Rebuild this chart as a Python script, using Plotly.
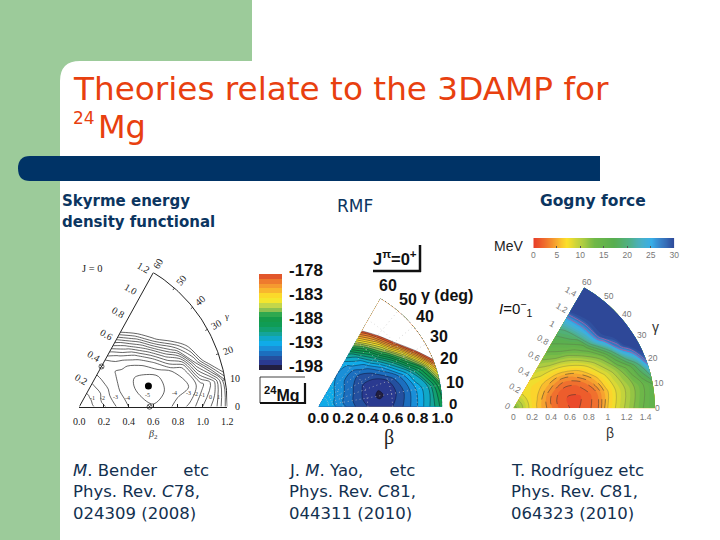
import numpy as np
import plotly.graph_objects as go

GAMMA = [0, 10, 20, 30, 40, 50, 60]

# ---- Skyrme panel: relative energy
BETA_L = [0, .1, .2, .3, .4, .5, .6, .7, .8, .9, 1.0, 1.1, 1.2]
Z_L = [
    [-.2, -.8, -1.85, -3.0, -4.0, -4.7, -4.9, -4.4, -3.6, -2.7, -1.0, .5, 3.5],
    [-.2, -.9, -2.2, -3.3, -4.3, -5.0, -5.4, -5.0, -4.4, -4.0, -2.4, -.6, 4.0],
    [-.2, -.9, -2.2, -3.5, -4.5, -5.2, -5.5, -4.9, -4.0, -2.8, 3.0, 8.0, 11.0],
    [-.2, -.9, -2.0, -3.4, -4.4, -4.9, -4.4, -2.8, .5, 3.7, 7.0, 10.0, 14.0],
    [-.2, -.9, -2.0, -3.4, -4.1, -3.9, -2.5, 1.0, 5.5, 9.0, 12.0, 15.0, 18.0],
    [-.2, -.8, -2.0, -3.3, -3.8, -2.4, .5, 4.5, 8.5, 12.0, 15.0, 18.0, 21.0],
    [-.2, -.8, -1.9, -3.2, -3.5, -.7, 3.0, 7.5, 12.0, 15.0, 18.0, 21.0, 24.0],
]
X_TICKS_L = [0, .2, .4, .6, .8, 1.0, 1.2]
X_LABELS_L = ["0.0", "0.2", "0.4", "0.6", "0.8", "1.0", "1.2"]
CONTOUR_TAGS_L = [(.13, 32, "-1"), (.2, 20, "-2"), (.3, 14, "-3"), (.4, 10, "-4"), (.56, 9, "-5"),
                  (.78, 8, "-4"), (.89, 7, "-3"), (.95, 6, "-2"), (1.0, 5, "-1"), (1.07, 4, "0"), (1.13, 4, "1")]

# ---- RMF panel
BETA_M = [0, .1, .2, .3, .4, .5, .6, .7, .8, .9, 1.0]
Z_M = [
    [-192, -192.5, -193.7, -195, -196, -196.5, -196, -194.8, -193, -191, -188.5],
    [-192, -192.6, -194, -195.2, -196.5, -197.2, -196.6, -195, -193, -191, -187],
    [-192, -192.6, -193.8, -195, -196.3, -196.8, -196, -194, -191, -187, -180],
    [-192, -192.5, -193.5, -194.7, -195.8, -195.5, -193.5, -190, -185, -178, -171],
    [-192, -192.5, -193.2, -194.3, -194.8, -193.5, -190, -185, -178, -171, -164],
    [-192, -192.3, -193, -193.7, -193.5, -191.5, -187, -181, -174, -167, -160],
    [-192, -192.3, -192.8, -193, -192.5, -189.5, -184, -178, -172, -166, -160],
]
BAND_VALUES_M = [-178.5 - i for i in range(20)]
BAND_COLORS_M = ["#E2572B", "#EE7B2E", "#F59A30", "#F8B62E", "#FBD92A", "#F4E62E", "#C4D64A", "#8CC152",
                 "#2FA84F", "#149A4A", "#109C55", "#12A070", "#14A59A", "#10A8C8", "#10ABE8", "#1A8FD8",
                 "#1C6FBF", "#24509F", "#2A3A90", "#221F40"]
BAR_TICKS_M = [-178, -183, -188, -193, -198]
X_TICKS_M = [0, .2, .4, .6, .8, 1.0]
X_LABELS_M = ["0.0", "0.2", "0.4", "0.6", "0.8", "1.0"]

# ---- Gogny panel
BETA_R = [0, .1, .2, .3, .4, .5, .6, .7, .8, .9, 1.0, 1.1, 1.2, 1.3, 1.4, 1.5]
Z_R = [
    [13, 10, 7, 5, 3.2, 1.7, 1, 1, 1.7, 3, 6, 8.5, 10.5, 12.5, 14.5, 16],
    [13, 10, 7, 5, 3, 1.5, .8, .8, 1.5, 2.9, 5.5, 8, 10, 12, 14, 16],
    [13, 10, 7.1, 5.5, 3.4, 2.1, 1.5, 1.8, 3, 4.8, 7.2, 9.5, 12, 15, 20, 28],
    [13, 10, 7.2, 6, 4.8, 3.8, 3.4, 4.2, 5.8, 8, 10.5, 13, 19, 27, 32, 34],
    [13, 10, 7.3, 6.5, 6, 6, 6.5, 8, 10, 12.5, 15, 22, 29, 32, 34, 36],
    [13, 10, 7.4, 7, 7.5, 8.5, 10, 12, 14, 16, 19, 24, 29, 32, 35, 37],
    [13, 10, 7.5, 7.5, 8.5, 10, 12, 14, 16, 18, 20.5, 24.5, 30, 32, 34, 36],
]
SCALE_VALUES_R = [0, 2.5, 5, 7, 10, 13, 17, 20, 23, 25, 27, 30]
SCALE_COLORS_R = ["#E8402A", "#F0702E", "#F8B030", "#FCE02A", "#B8D040", "#70B848", "#58AE50", "#50B080",
                  "#48B0C8", "#38AEE8", "#3880C8", "#2E4898"]
X_TICKS_R = [0, .2, .4, .6, .8, 1, 1.2, 1.4]
X_LABELS_R = ["0", "0.2", "0.4", "0.6", "0.8", "1", "1.2", "1.4"]
BAR_TICKS_R = [0, 5, 10, 15, 20, 25, 30]

W, H = 720, 540
NAVY = "#0B3560"
TITLE = "#E8400F"
GREEN = "#9CCB9A"

# panel frames in page pixels: left, right, top, bottom
FRAME = {1: (79.3, 227.3, 272.6, 406.7), 2: (318.3, 442.3, 298.4, 406.7), 3: (513.3, 655, 287.5, 408.3)}
RANGE = {1: (1.2, 1.0392), 2: (1.0, .866), 3: (1.5, 1.299)}


def polar(b, g):
    r = np.radians(g)
    return b * np.cos(r), b * np.sin(r)


def mesh(betas):
    bb, gg = np.meshgrid(betas, GAMMA)
    return polar(bb, gg)


def domx(a, b):
    return [a / W, b / W]


def domy(top, bottom):
    return [1 - bottom / H, 1 - top / H]


def px(x):
    return x / W


def py(y):
    return 1 - y / H


fig = go.Figure()
ann = []
shapes = []


def text(x, y, s, size, color="#000", family="Liberation Sans", anchor="center", angle=0):
    ann.append(dict(x=px(x), y=py(y), xref="paper", yref="paper", text=s, showarrow=False, xanchor=anchor,
                    yanchor="middle", textangle=angle, font=dict(size=size, color=color, family=family)))


def dtext(ax, b, g, s, size, color, family, angle=0, dx=0, dy=0):
    # annotation placed by polar position; labels sit outside the axis range so they go on the page frame
    x, y = polar(b, g)
    l, r, t, bt = FRAME[ax]
    rx, ry = RANGE[ax]
    text(l + (r - l) * float(x) / rx + dx, bt - (bt - t) * float(y) / ry - dy, s, size, color, family, angle=angle)


def add_carpet(cid, betas, ax):
    x, y = mesh(betas)
    hidden = dict(showgrid=False, showline=False, showticklabels="none", startline=False, endline=False,
                  minorgridcount=0, smoothing=1)
    fig.add_trace(go.Carpet(carpet=cid, a=betas, b=GAMMA, x=x.tolist(), y=y.tolist(), aaxis=hidden, baxis=hidden,
                            xaxis=f"x{ax}", yaxis=f"y{ax}"))


def line(ax, xs, ys, color="#000", width=1, dash="solid"):
    fig.add_trace(go.Scatter(x=xs, y=ys, mode="lines", xaxis=f"x{ax}", yaxis=f"y{ax}", hoverinfo="skip",
                             showlegend=False, cliponaxis=False, line=dict(color=color, width=width, dash=dash)))


# ---------- left panel
add_carpet("L", BETA_L, 1)
fig.add_trace(go.Contourcarpet(carpet="L", a=BETA_L, b=GAMMA, z=Z_L, autocontour=False, showscale=False,
                               contours=dict(start=-5, end=6, size=1, coloring="none"),
                               line=dict(color="#222", width=.7, smoothing=1), xaxis="x1", yaxis="y1"))
g_fine = np.linspace(0, 60, 61)
ax_, ay_ = polar(1.2, g_fine)
line(1, ax_.tolist(), ay_.tolist(), "#222", 1)
ex, ey = polar(np.array([0, 1.2]), 60)
line(1, ex.tolist(), ey.tolist(), "#222", 1)
for g in GAMMA[1:-1]:
    tx, ty = polar(np.array([1.18, 1.2]), g)
    line(1, tx.tolist(), ty.tolist(), "#222", .8)
fig.add_trace(go.Scatter(x=[float(polar(.583, 16)[0])], y=[float(polar(.583, 16)[1])], mode="markers", xaxis="x1",
                         yaxis="y1", showlegend=False, hoverinfo="skip",
                         marker=dict(color="#000", size=7)))
sx, sy = polar(np.array([.36, .57]), np.array([60, 0]))
fig.add_trace(go.Scatter(x=sx.tolist(), y=sy.tolist(), mode="markers", xaxis="x1", yaxis="y1", showlegend=False,
                         hoverinfo="skip", cliponaxis=False,
                         marker=dict(symbol="circle-x-open", color="#222", size=5, line=dict(width=.7))))
for b, s in zip(X_TICKS_L[1:], X_LABELS_L[1:]):
    dtext(1, b, 60, s, 10, "#222", "Liberation Serif", angle=30, dx=-10, dy=5)
for g in GAMMA[1:]:
    dtext(1, 1.28, g, str(g), 10, "#222", "Liberation Serif", angle=-g if g > 10 else 0)
dtext(1, 1.28, 0, "0", 10, "#222", "Liberation Serif")
for b, g, s in CONTOUR_TAGS_L:
    dtext(1, b, g, s, 6, "#333", "Liberation Serif")
text(92.7, 268.3, "J = 0", 10.5, "#222", "Liberation Serif")
text(226.5, 316, "γ", 9, "#222", "Liberation Serif")
text(152.7, 434, "<i>β</i><sub>2</sub>", 10, "#333", "Liberation Serif")

# ---------- middle panel
add_carpet("M", BETA_M, 2)
cs_m = [[0, BAND_COLORS_M[-1]]]
for v, c in sorted(zip(BAND_VALUES_M, BAND_COLORS_M)):
    cs_m.append([(v + 198.5) / 21, c])
cs_m.append([1, "#FFFFFF"])
fig.add_trace(go.Contourcarpet(carpet="M", a=BETA_M, b=GAMMA, z=Z_M, autocontour=False, showscale=False,
                               colorscale=cs_m, contours=dict(start=-198, end=-178, size=1, coloring="fill"),
                               line=dict(color="rgba(10,10,30,.7)", width=.6, smoothing=1), xaxis="x2", yaxis="y2"))
for g in GAMMA[1:]:
    rx, ry = polar(np.array([.08, 1.0]), g)
    line(2, rx.tolist(), ry.tolist(), "#c4c4c4", .7, "1px,3px")
for b in [.2, .4, .6, .8, 1.0]:
    ax_, ay_ = polar(b, g_fine)
    line(2, ax_.tolist(), ay_.tolist(), "#d0d0d0" if b < 1 else "#444", .7, "1px,3px")
for g in GAMMA[1:]:
    dtext(2, 1.12, g, f"<b>{g}</b>", 16, "#111", "Liberation Sans")
dtext(2, 1.09, 0, "<b>0</b>", 15, "#111", "Liberation Sans", dy=3)
text(447, 295, "<b>γ (deg)</b>", 16, "#111")
text(395, 258, "<b>J<sup>π</sup>=0<sup>+</sup></b>", 16.5, "#111")
text(389, 437, "β", 20, "#222", "Liberation Serif")
text(282, 394, "<b><sup>24</sup>Mg</b>", 16, "#111")
fig.add_trace(go.Heatmap(x=[0], y=BAND_VALUES_M, z=[[v] for v in BAND_VALUES_M], xaxis="x4", yaxis="y4", showscale=False,
                         zmin=-197.5, zmax=-178.5, hoverinfo="skip",
                         colorscale=[[(v + 197.5) / 19, c] for v, c in sorted(zip(BAND_VALUES_M, BAND_COLORS_M))]))

# ---------- right panel
add_carpet("R", BETA_R, 3)
cs_r = [[0, SCALE_COLORS_R[0]]] + [[(v + .5) / 31, c] for v, c in zip(SCALE_VALUES_R, SCALE_COLORS_R)] + [[1, SCALE_COLORS_R[-1]]]
fig.add_trace(go.Contourcarpet(carpet="R", a=BETA_R, b=GAMMA, z=Z_R, autocontour=False, showscale=False, colorscale=cs_r,
                               contours=dict(start=0, end=30, size=1, coloring="fill"),
                               line=dict(width=0, smoothing=1), xaxis="x3", yaxis="y3"))
for start, end, size, color, dash, width in [(1, 5, 1, "#333", "dash", .5), (6, 20, 2, "rgba(90,90,70,.5)", "solid", .6),
                                             (26, 28, 2, "#A060A8", "solid", .9)]:
    fig.add_trace(go.Contourcarpet(carpet="R", a=BETA_R, b=GAMMA, z=Z_R, autocontour=False, showscale=False,
                                   contours=dict(start=start, end=end, size=size, coloring="none"),
                                   line=dict(color=color, width=width, dash=dash, smoothing=1), xaxis="x3", yaxis="y3"))
for b, s in zip(X_TICKS_R[1:], X_LABELS_R[1:]):
    dtext(3, b, 60, s, 8.5, "#777", "Liberation Sans", angle=30, dx=-8, dy=4)
dtext(3, 0, 0, "0", 8.5, "#777", "Liberation Sans", angle=30, dx=-6, dy=2)
for g in GAMMA[1:]:
    dtext(3, 1.57, g, str(g), 8.5, "#777", "Liberation Sans")
dtext(3, 1.53, 0, "0", 8.5, "#777", "Liberation Sans")
text(655, 327, "γ", 14, "#333", "Liberation Sans")
text(610, 433, "β", 14, "#333", "Liberation Sans")
text(497, 308, "<i>I</i>=0<sup>−</sup><sub>1</sub>", 15, "#111", anchor="left")
text(508, 246, "MeV", 14, "#222")
bar_z = [[v for v in range(0, 31)]]
fig.add_trace(go.Heatmap(x=list(range(0, 31)), y=[0], z=bar_z, xaxis="x5", yaxis="y5", showscale=False, zmin=0, zmax=30,
                         hoverinfo="skip", zsmooth="best",
                         colorscale=[[v / 30, c] for v, c in zip(SCALE_VALUES_R, SCALE_COLORS_R)]))

# ---------- slide text
text(71, 89, "Theories relate to the 3DAMP for", 32.7, TITLE, "DejaVu Sans", "left")
text(71, 118, "24", 17, TITLE, "DejaVu Sans", "left")
text(96, 127, "Mg", 32, TITLE, "DejaVu Sans", "left")
text(60, 201, "<b>Skyrme energy</b>", 15, NAVY, "DejaVu Sans", "left")
text(60, 222, "<b>density functional</b>", 15, NAVY, "DejaVu Sans", "left")
text(335, 206, "RMF", 17, NAVY, "DejaVu Sans", "left")
text(538, 201, "<b>Gogny force</b>", 15.5, NAVY, "DejaVu Sans", "left")
CAPTIONS = [
    (71, ["<i>M</i>. Bender     etc", "Phys. Rev. <i>C</i>78,", "024309 (2008)"]),
    (287, ["J. <i>M</i>. Yao,     etc", "Phys. Rev. <i>C</i>81,", "044311 (2010)"]),
    (509, ["T. Rodríguez etc", "Phys. Rev. <i>C</i>81,", "064323 (2010)"]),
]
for x0, lines in CAPTIONS:
    for y0, s in zip([470, 491, 513], lines):
        text(x0, y0, s, 16.5, "#12304F", "DejaVu Sans", "left")


def rect(x0, y0, x1, y1, color):
    shapes.append(dict(type="rect", xref="paper", yref="paper", x0=px(x0), x1=px(x1), y0=py(y0), y1=py(y1),
                       fillcolor=color, line_width=0, layer="below"))


def seg(x0, y0, x1, y1, width, color="#111"):
    shapes.append(dict(type="line", xref="paper", yref="paper", x0=px(x0), x1=px(x1), y0=py(y0), y1=py(y1),
                       line=dict(color=color, width=width)))


def rounded(path_pts, color):
    d = ""
    for cmd, pts in path_pts:
        d += cmd + " ".join(f"{px(a):.5f},{py(b):.5f}" for a, b in pts) + " "
    shapes.append(dict(type="path", xref="paper", yref="paper", path=d + "Z", fillcolor=color, line_width=0, layer="below"))


rect(0, 0, 252, 61, GREEN)
rect(0, 61, 60, 540, GREEN)
rounded([("M", [(60, 61)]), ("L", [(80, 61)]), ("Q", [(60, 61), (60, 81)])], GREEN)
rounded([("M", [(30, 156)]), ("L", [(600, 156)]), ("L", [(600, 181)]), ("L", [(30, 181)]),
         ("Q", [(18, 181), (18, 168.5)]), ("Q", [(18, 156), (30, 156)])], "#003366")
seg(373, 271, 421, 271, 2.5)
seg(420, 245, 420, 272, 2.5)
seg(260, 377, 305, 377, .8)
seg(260, 377, 260, 403, .8)
seg(260, 403, 306, 403, 2.2)
seg(305, 383, 305, 404, 2.2)

hide = dict(showgrid=False, zeroline=False, showticklabels=False, ticks="", showline=False, fixedrange=True)
serif = dict(size=10, color="#222", family="Liberation Serif")
fig.update_layout(
    width=W, height=H, margin=dict(l=0, r=0, t=0, b=0, autoexpand=False), paper_bgcolor="#FFFFFF", plot_bgcolor="rgba(0,0,0,0)",
    showlegend=False, annotations=ann, shapes=shapes,
    xaxis=dict(domain=domx(79.3, 227.3), range=[0, 1.2], anchor="y", showgrid=False, zeroline=False, showline=True,
               linecolor="#222", linewidth=1, ticks="inside", ticklen=3, tickvals=X_TICKS_L, ticktext=X_LABELS_L,
               tickfont=serif, ticklabelstandoff=5, tickcolor="#222"),
    yaxis=dict(domain=domy(272.6, 406.7), range=[0, 1.0392], anchor="x", **hide),
    xaxis2=dict(domain=domx(318.3, 442.3), range=[0, 1], anchor="y2", showgrid=False, zeroline=False, showline=False,
                ticks="", tickvals=X_TICKS_M, ticktext=[f"<b>{s}</b>" for s in X_LABELS_M],
                tickfont=dict(size=15.5, color="#111", family="Liberation Sans")),
    yaxis2=dict(domain=domy(298.4, 406.7), range=[0, .866], anchor="x2", **hide),
    xaxis3=dict(domain=domx(513.3, 655), range=[0, 1.5], anchor="y3", showgrid=False, zeroline=False, showline=False,
                ticks="", tickvals=X_TICKS_R, ticktext=X_LABELS_R, ticklabelstandoff=2,
                tickfont=dict(size=8.5, color="#777", family="Liberation Sans")),
    yaxis3=dict(domain=domy(287.5, 408.3), range=[0, 1.299], anchor="x3", **hide),
    xaxis4=dict(domain=domx(259, 282), anchor="y4", range=[-.5, .5], **hide),
    yaxis4=dict(domain=domy(274, 370), range=[-198, -178], anchor="x4", side="right", showgrid=False, zeroline=False, ticks="",
                tickvals=BAR_TICKS_M, ticktext=[f"<b>{v}</b>" for v in BAR_TICKS_M], ticklabelshift=-4, ticklabelstandoff=6,
                tickfont=dict(size=17, color="#111", family="Liberation Sans")),
    xaxis5=dict(domain=domx(533.3, 674.3), range=[0, 30], anchor="y5", showgrid=False, zeroline=False, ticks="inside", ticklen=2,
                tickcolor="#555", tickvals=BAR_TICKS_R, tickfont=dict(size=8.5, color="#777", family="Liberation Sans")),
    yaxis5=dict(domain=domy(238, 248), anchor="x5", range=[-.5, .5], **hide),
)
fig.write_html("out.html", config=dict(displayModeBar=False), post_script="document.body.style.margin='0';")
